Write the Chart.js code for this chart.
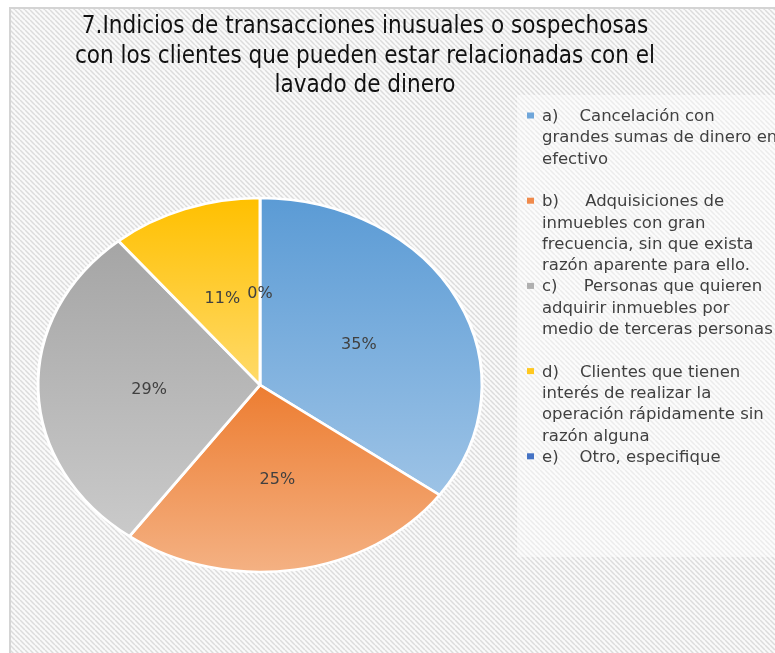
<!DOCTYPE html>
<html><head><meta charset="utf-8">
<script src="https://cdn.jsdelivr.net/npm/chart.js@4.4.1/dist/chart.umd.min.js"></script>
<style>html,body{margin:0;padding:0;background:#fff;overflow:hidden}canvas{display:block}</style>
</head><body>
<canvas id="c" width="775" height="653"></canvas>
<script>
const titleLines = [
  "7.Indicios de transacciones inusuales o sospechosas",
  "con los clientes que pueden estar relacionadas con el",
  "lavado de dinero"
];
const categories = [
  ["a)    Cancelación con", "grandes sumas de dinero en", "efectivo"],
  ["b)     Adquisiciones de", "inmuebles con gran", "frecuencia, sin que exista", "razón aparente para ello."],
  ["c)     Personas que quieren", "adquirir inmuebles por", "medio de terceras personas"],
  ["d)    Clientes que tienen", "interés de realizar la", "operación rápidamente sin", "razón alguna"],
  ["e)    Otro, especifique"]
];
const percentages = [35, 25, 29, 11, 0];
const topColors = ['#5b9bd5', '#ed7d31', '#a5a5a5', '#ffc000', '#4472c4'];
const bottomColors = ['#9dc3e6', '#f4b183', '#cacaca', '#ffda6a', '#4472c4'];
const markerColors = ['#6fa6da', '#f08a4b', '#b0b0b0', '#ffc81f', '#4472c4'];

const PIE_CX = 260, PIE_CY = 385, PIE_RX = 222, PIE_R = 187;
const SX = PIE_RX / PIE_R;

function sliceGradient(ctx) {
  const chart = ctx.chart, i = ctx.dataIndex, area = chart.chartArea;
  if (!area || i === undefined) return topColors[i || 0];
  const cy = (area.top + area.bottom) / 2, r = PIE_R;
  const total = percentages.reduce((a, b) => a + b, 0);
  let before = 0;
  for (let k = 0; k < i; k++) before += percentages[k];
  const a0 = before / total * 2 * Math.PI, a1 = (before + percentages[i]) / total * 2 * Math.PI;
  const ys = [cy, cy - r * Math.cos(a0), cy - r * Math.cos(a1)];
  if (a0 <= 0) ys.push(cy - r);
  if (a0 <= Math.PI && a1 >= Math.PI) ys.push(cy + r);
  let y0 = Math.min(...ys), y1 = Math.max(...ys);
  if (y1 - y0 < 1) y1 = y0 + 1;
  const g = chart.ctx.createLinearGradient(0, y0, 0, y1);
  g.addColorStop(0, topColors[i]);
  g.addColorStop(1, bottomColors[i]);
  return g;
}

function makePattern(ctx) {
  const s = 5;
  const t = document.createElement('canvas');
  t.width = s; t.height = s;
  const c = t.getContext('2d');
  c.fillStyle = '#fafafa';
  c.fillRect(0, 0, s, s);
  c.strokeStyle = '#dcdcdc';
  c.lineWidth = 1.5;
  c.beginPath();
  for (let k = -1; k <= 1; k++) { c.moveTo(k * s, 0); c.lineTo(k * s + s, s); }
  c.stroke();
  return ctx.createPattern(t, 'repeat');
}

const bgPlugin = {
  id: 'bg',
  beforeDraw(chart) {
    const c = chart.ctx;
    c.save();
    c.fillStyle = '#ffffff';
    c.fillRect(0, 0, chart.width, chart.height);
    c.fillStyle = makePattern(c);
    c.fillRect(11, 9, chart.width - 11, chart.height - 9);
    c.fillStyle = 'rgba(255,255,255,0.45)';
    c.fillRect(517, 95, chart.width - 517, 462);
    c.strokeStyle = '#d4d4d4';
    c.lineWidth = 2;
    c.strokeRect(10, 8, chart.width + 20, chart.height + 20);
    c.restore();
  }
};

const ellipsePlugin = {
  id: 'ellipse',
  beforeDatasetsDraw(chart) {
    const arc = chart.getDatasetMeta(0).data[0];
    const c = chart.ctx;
    c.save();
    c.translate(PIE_CX, PIE_CY);
    c.scale(SX, 1);
    c.translate(-arc.x, -arc.y);
  },
  afterDatasetsDraw(chart) {
    const c = chart.ctx;
    c.restore();
    const meta = chart.getDatasetMeta(0);
    c.save();
    c.font = '16px "DejaVu Sans", sans-serif';
    c.fillStyle = '#404040';
    c.textAlign = 'center';
    c.textBaseline = 'middle';
    meta.data.forEach((arc, i) => {
      const mid = (arc.startAngle + arc.endAngle) / 2;
      const x = PIE_CX + Math.cos(mid) * PIE_R * 0.5 * SX;
      const y = PIE_CY + Math.sin(mid) * PIE_R * 0.5 + 2;
      c.fillText(percentages[i] + '%', x, y);
    });
    c.restore();
  }
};

const legendPlugin = {
  id: 'customLegend',
  afterDraw(chart) {
    const c = chart.ctx;
    c.save();
    c.font = '16.5px "DejaVu Sans", sans-serif';
    c.fillStyle = '#404040';
    c.textBaseline = 'alphabetic';
    c.textAlign = 'left';
    const step = 21.3;
    let base = 121;
    categories.forEach((lines, i) => {
      c.fillStyle = markerColors[i];
      c.fillRect(527, base - 8.5, 7, 6);
      c.fillStyle = '#404040';
      lines.forEach((ln, j) => c.fillText(ln, 542, base + j * step));
      base += Math.max(4, lines.length) * step;
    });
    c.restore();
  }
};

new Chart(document.getElementById('c'), {
  type: 'pie',
  data: {
    labels: categories.map(l => l.join(' ')),
    datasets: [{
      data: percentages,
      backgroundColor: sliceGradient,
      borderColor: '#ffffff',
      borderWidth: 2.5,
      clip: false
    }]
  },
  options: {
    responsive: false,
    animation: false,
    devicePixelRatio: 1,
    radius: PIE_R,
    layout: { padding: { left: 0, right: 45, top: 0, bottom: 0 } },
    plugins: {
      legend: { display: false },
      tooltip: { enabled: false },
      title: {
        display: true,
        text: titleLines,
        color: '#111111',
        font: { family: "'Liberation Sans Narrow', 'DejaVu Sans Condensed', sans-serif", size: 24, weight: 'normal', lineHeight: 1.23 },
        padding: { top: 12, bottom: 8 }
      }
    }
  },
  plugins: [bgPlugin, ellipsePlugin, legendPlugin]
});
</script>
</body></html>
